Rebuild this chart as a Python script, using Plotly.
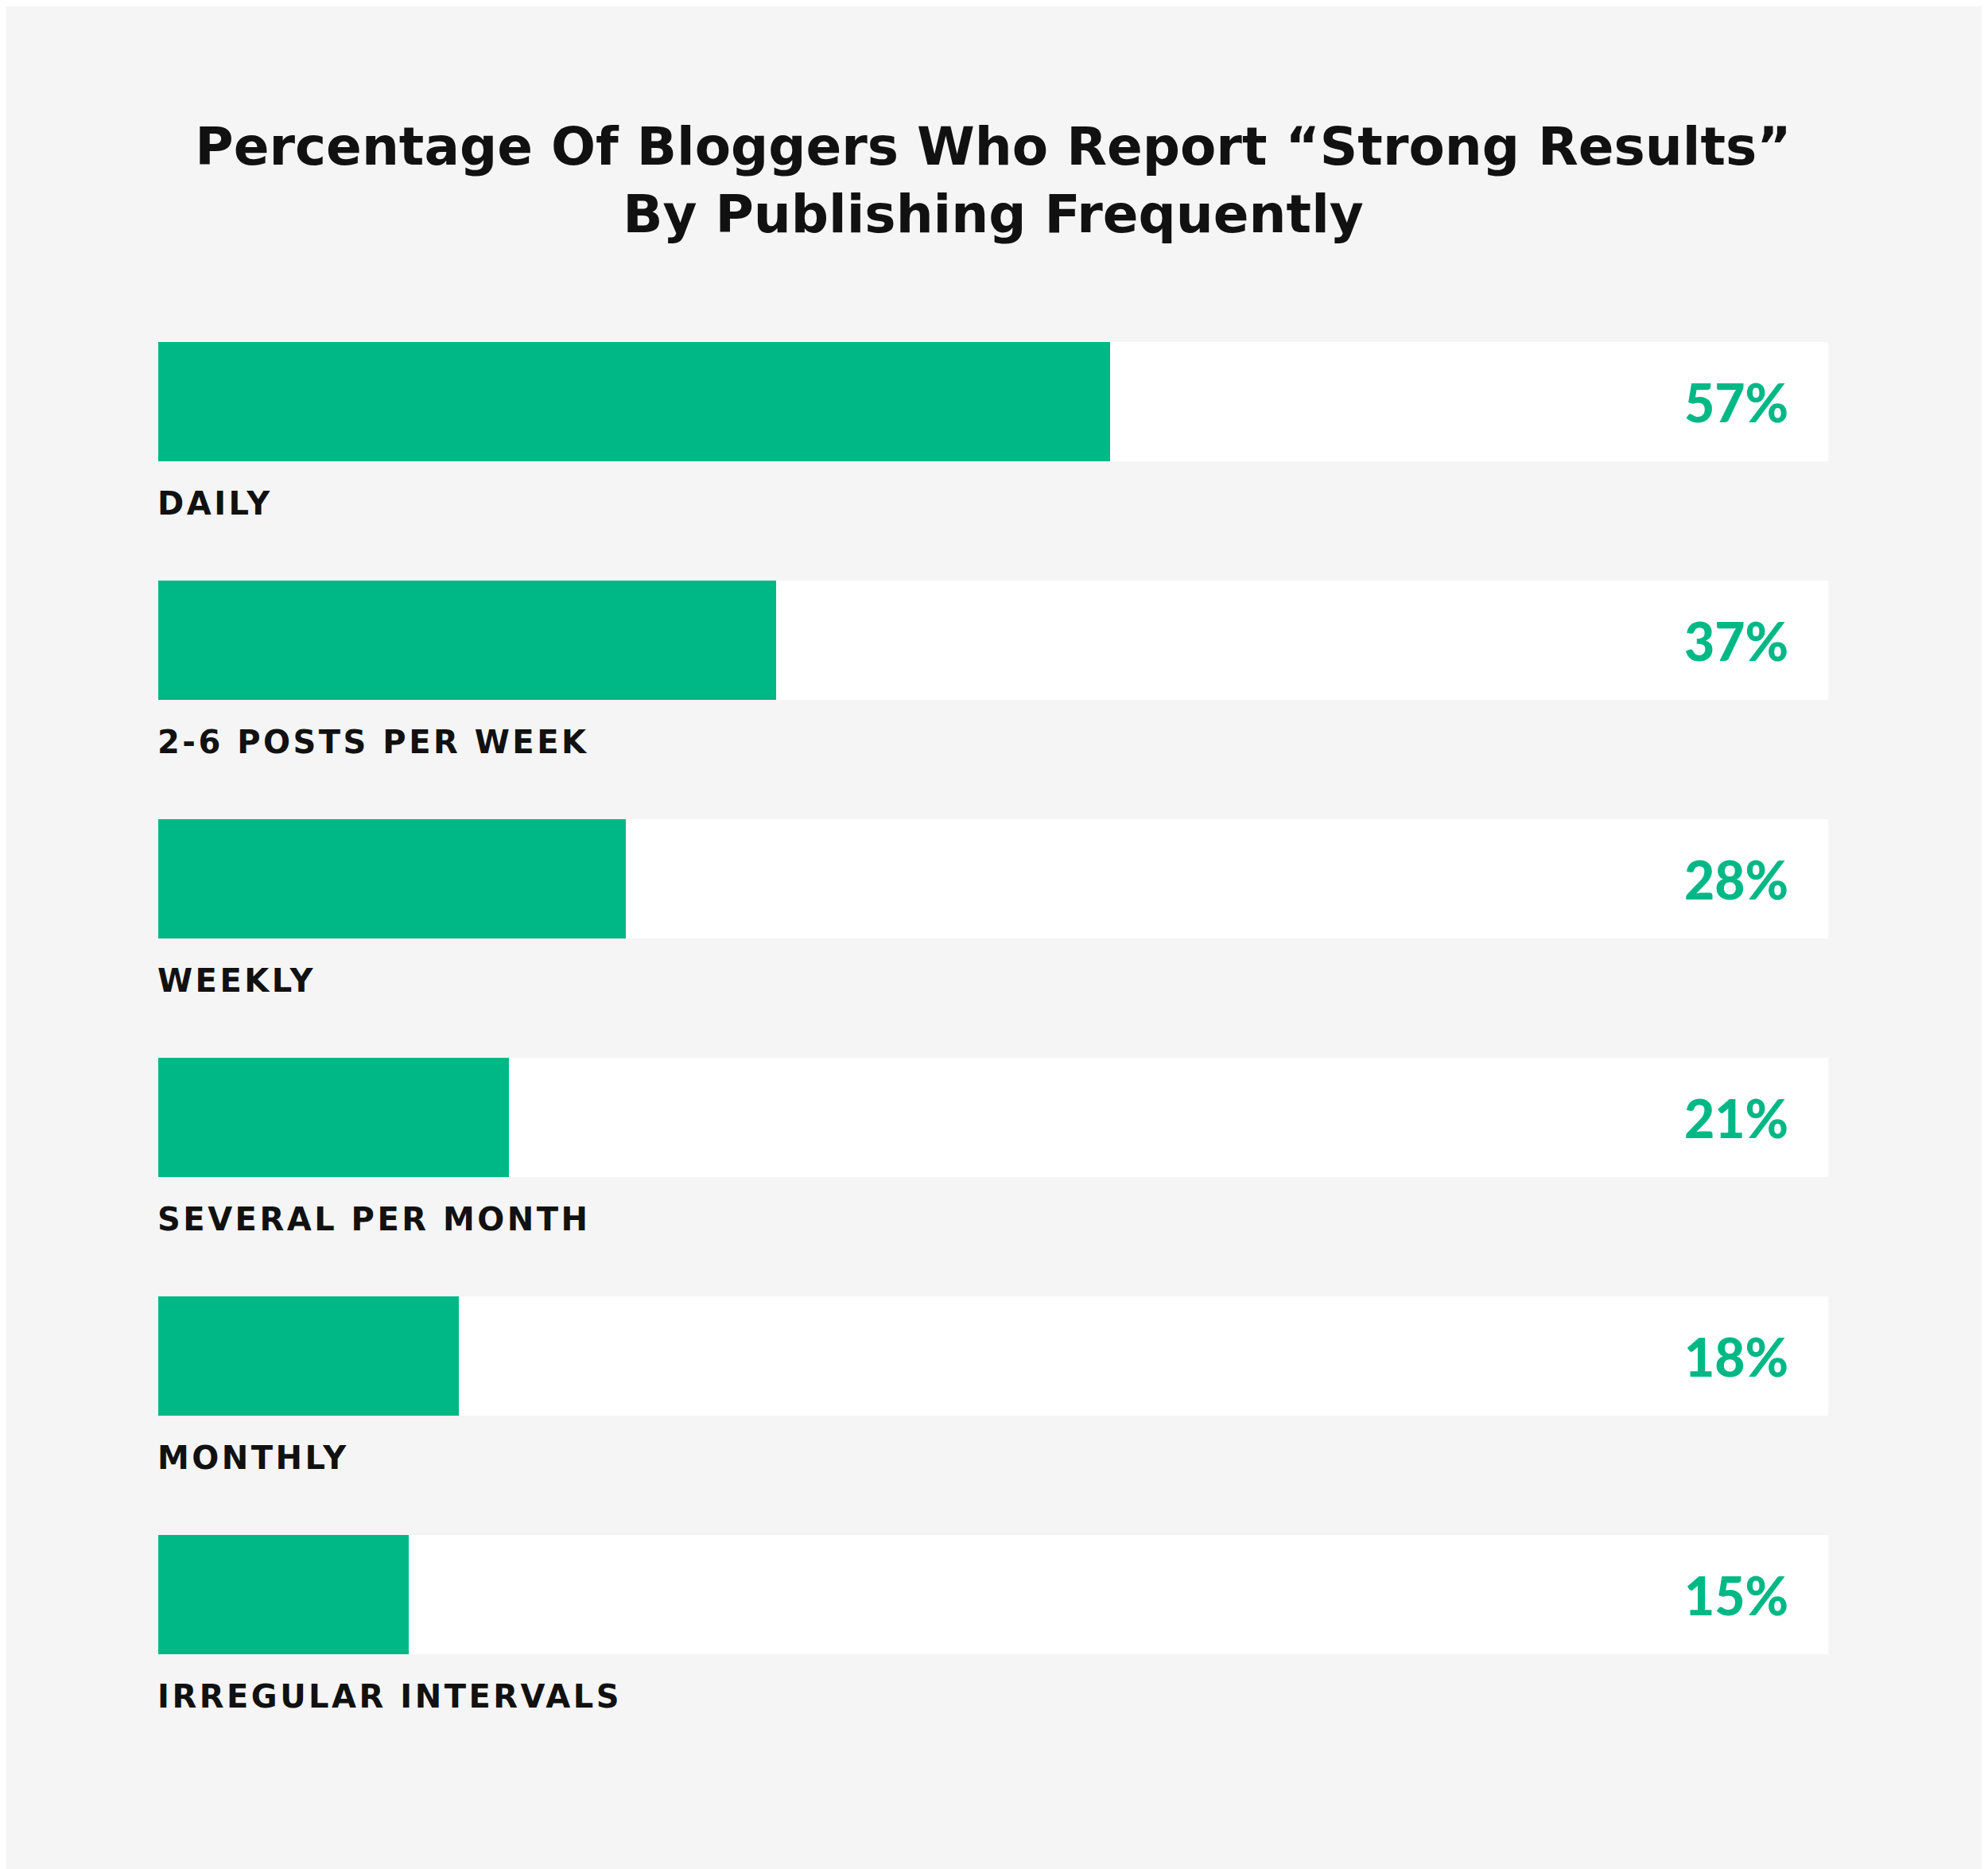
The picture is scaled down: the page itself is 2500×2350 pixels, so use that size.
import plotly.graph_objects as go

# Publishing frequency categories and share of bloggers reporting strong results
categories = ['DAILY', '2-6 POSTS PER WEEK', 'WEEKLY', 'SEVERAL PER MONTH', 'MONTHLY', 'IRREGULAR INTERVALS']
percentages = [57, 37, 28, 21, 18, 15]
track_max = [100, 100, 100, 100, 100, 100]

green = '#00B886'
bg = '#F5F5F5'

fig = go.Figure()

# White background track for each row
fig.add_trace(go.Bar(
    x=track_max,
    y=categories,
    orientation='h',
    marker=dict(color='white', line=dict(width=0)),
    width=0.497,
    hoverinfo='skip',
    showlegend=False,
))

# Green value bars
fig.add_trace(go.Bar(
    x=percentages,
    y=categories,
    orientation='h',
    marker=dict(color=green, line=dict(width=0)),
    width=0.497,
    showlegend=False,
))

# Percent labels at the right end of each track, category label below each bar
for cat, val in zip(categories, percentages):
    fig.add_annotation(
        x=100, y=cat, xref='x', yref='y',
        text=f'{val}%',
        showarrow=False,
        xanchor='right', yanchor='middle',
        xshift=-48,
        font=dict(family='Lato', size=66, color=green, weight=900),
    )
    fig.add_annotation(
        x=0, y=cat, xref='x', yref='y',
        text=f'<span style="letter-spacing:3.5px">{cat}</span>',
        showarrow=False,
        xanchor='left', yanchor='middle',
        xshift=-3, yshift=-128,
        font=dict(family='DejaVu Sans', size=40, color='#111111', weight='bold'),
    )

fig.update_layout(
    width=2500,
    height=2350,
    barmode='overlay',
    bargap=0,
    paper_bgcolor=bg,
    plot_bgcolor=bg,
    margin=dict(l=191, r=209, t=347, b=203),
    title=dict(
        text='Percentage Of Bloggers Who Report “Strong Results”<br>By Publishing Frequently',
        x=0.5, xanchor='center',
        y=0.9155, yanchor='middle',
        xref='paper', yref='container',
        font=dict(family='DejaVu Sans', size=66, color='#111111', weight='bold'),
    ),
)

fig.update_xaxes(range=[0, 100], visible=False, fixedrange=True)
fig.update_yaxes(
    categoryorder='array', categoryarray=categories,
    range=[5.5, -0.5], visible=False, fixedrange=True,
)

fig.write_html('out.html')
